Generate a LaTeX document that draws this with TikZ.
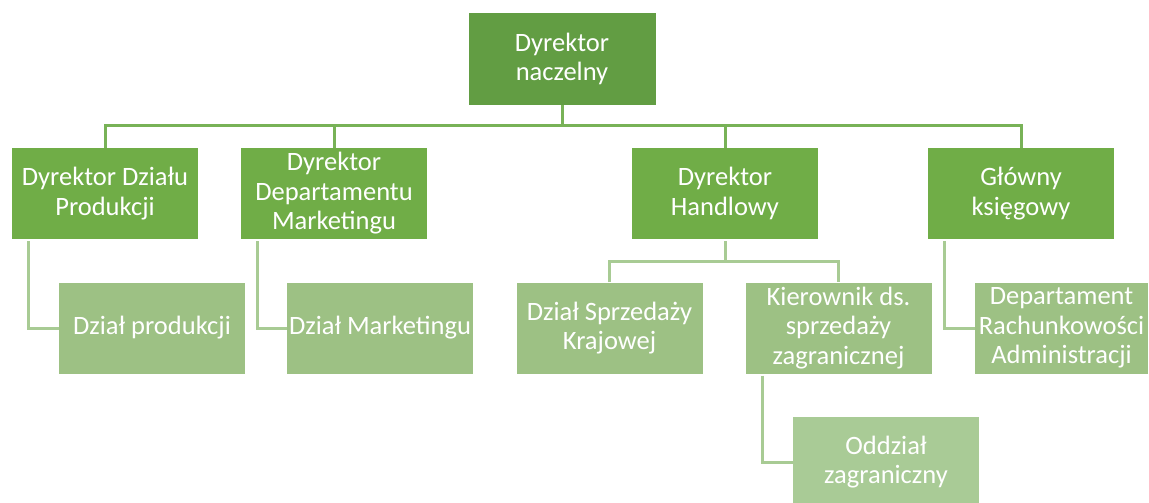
\documentclass[tikz,border=0pt]{standalone}
\usepackage{fontspec}
\setmainfont{Carlito}
\usetikzlibrary{positioning}

\definecolor{rootgreen}{HTML}{629D43}
\definecolor{headgreen}{HTML}{70AD47}
\definecolor{unitgreen}{HTML}{9DC184}
\definecolor{branchgreen}{HTML}{A9CB96}
\definecolor{linkdark}{HTML}{78B257}
\definecolor{linklight}{HTML}{A8CB94}

\begin{document}
\begin{tikzpicture}[
  x=1pt,
  y=-1pt,
  font=\fontsize{26.5}{29.5}\selectfont,
  root/.style={fill=rootgreen, text=white, minimum width=187pt, minimum height=92pt, inner sep=0pt, align=center},
  head/.style={fill=headgreen, text=white, minimum width=186pt, minimum height=91pt, inner sep=0pt, align=center},
  unit/.style={fill=unitgreen, text=white, minimum width=186pt, minimum height=91pt, inner sep=0pt, align=center},
  subunit/.style={fill=branchgreen, text=white, minimum width=186pt, minimum height=91pt, inner sep=0pt, align=center},
  branch/.style={draw=linkdark, line width=3pt},
  twig/.style={draw=linklight, line width=3pt}
]
  \useasboundingbox (0,0) rectangle (1149,503);

  \node[root] (root) at (562, 59) {Dyrektor\\naczelny};

  \node[head] (g1) at (105, 193.5) {Dyrektor Działu\\Produkcji};
  \node[head] (g2) at (334, 193.5) {Dyrektor\\Departamentu\\Marketingu};
  \node[head] (g3) at (725, 193.5) {Dyrektor\\Handlowy};
  \node[head] (g4) at (1021, 193.5) {Główny\\księgowy};

  \node[unit] (s1) at (152, 328) {Dział produkcji};
  \node[unit] (s2) at (380, 328) {Dział Marketingu};
  \node[unit] (s3) at (609.5, 328) {Dział Sprzedaży\\Krajowej};
  \node[unit] (s4) at (838.5, 328) {Kierownik ds.\\sprzedaży\\zagranicznej};
  \node[unit, minimum width=173pt] (s5) at (1061.5, 328) {Departament\\Rachunkowości\\Administracji};

  \node[subunit] (s6) at (886, 462) {Oddział\\zagraniczny};

  \coordinate (bus) at (562, 125);
  \coordinate (hbus) at (725, 261);

  \draw[branch] (root.south) -- (bus);
  \draw[branch] (g1.north) -- (g1.north |- bus) -- (g4.north |- bus) -- (g4.north);
  \draw[branch] (g2.north) -- (g2.north |- bus);
  \draw[branch] (g3.north) -- (g3.north |- bus);

  \draw[twig] ([xshift=17pt, yshift=-2pt]g1.south west) |- (s1.west);
  \draw[twig] ([xshift=17pt, yshift=-2pt]g2.south west) |- (s2.west);
  \draw[twig] ([xshift=17pt, yshift=-2pt]g4.south west) |- (s5.west);
  \draw[twig] ([xshift=17pt, yshift=-2pt]s4.south west) |- (s6.west);

  \draw[twig] ([yshift=-2pt]g3.south) -- (g3.south |- hbus);
  \draw[twig] (s3.north) -- (s3.north |- hbus) -- (s4.north |- hbus) -- (s4.north);
\end{tikzpicture}
\end{document}
